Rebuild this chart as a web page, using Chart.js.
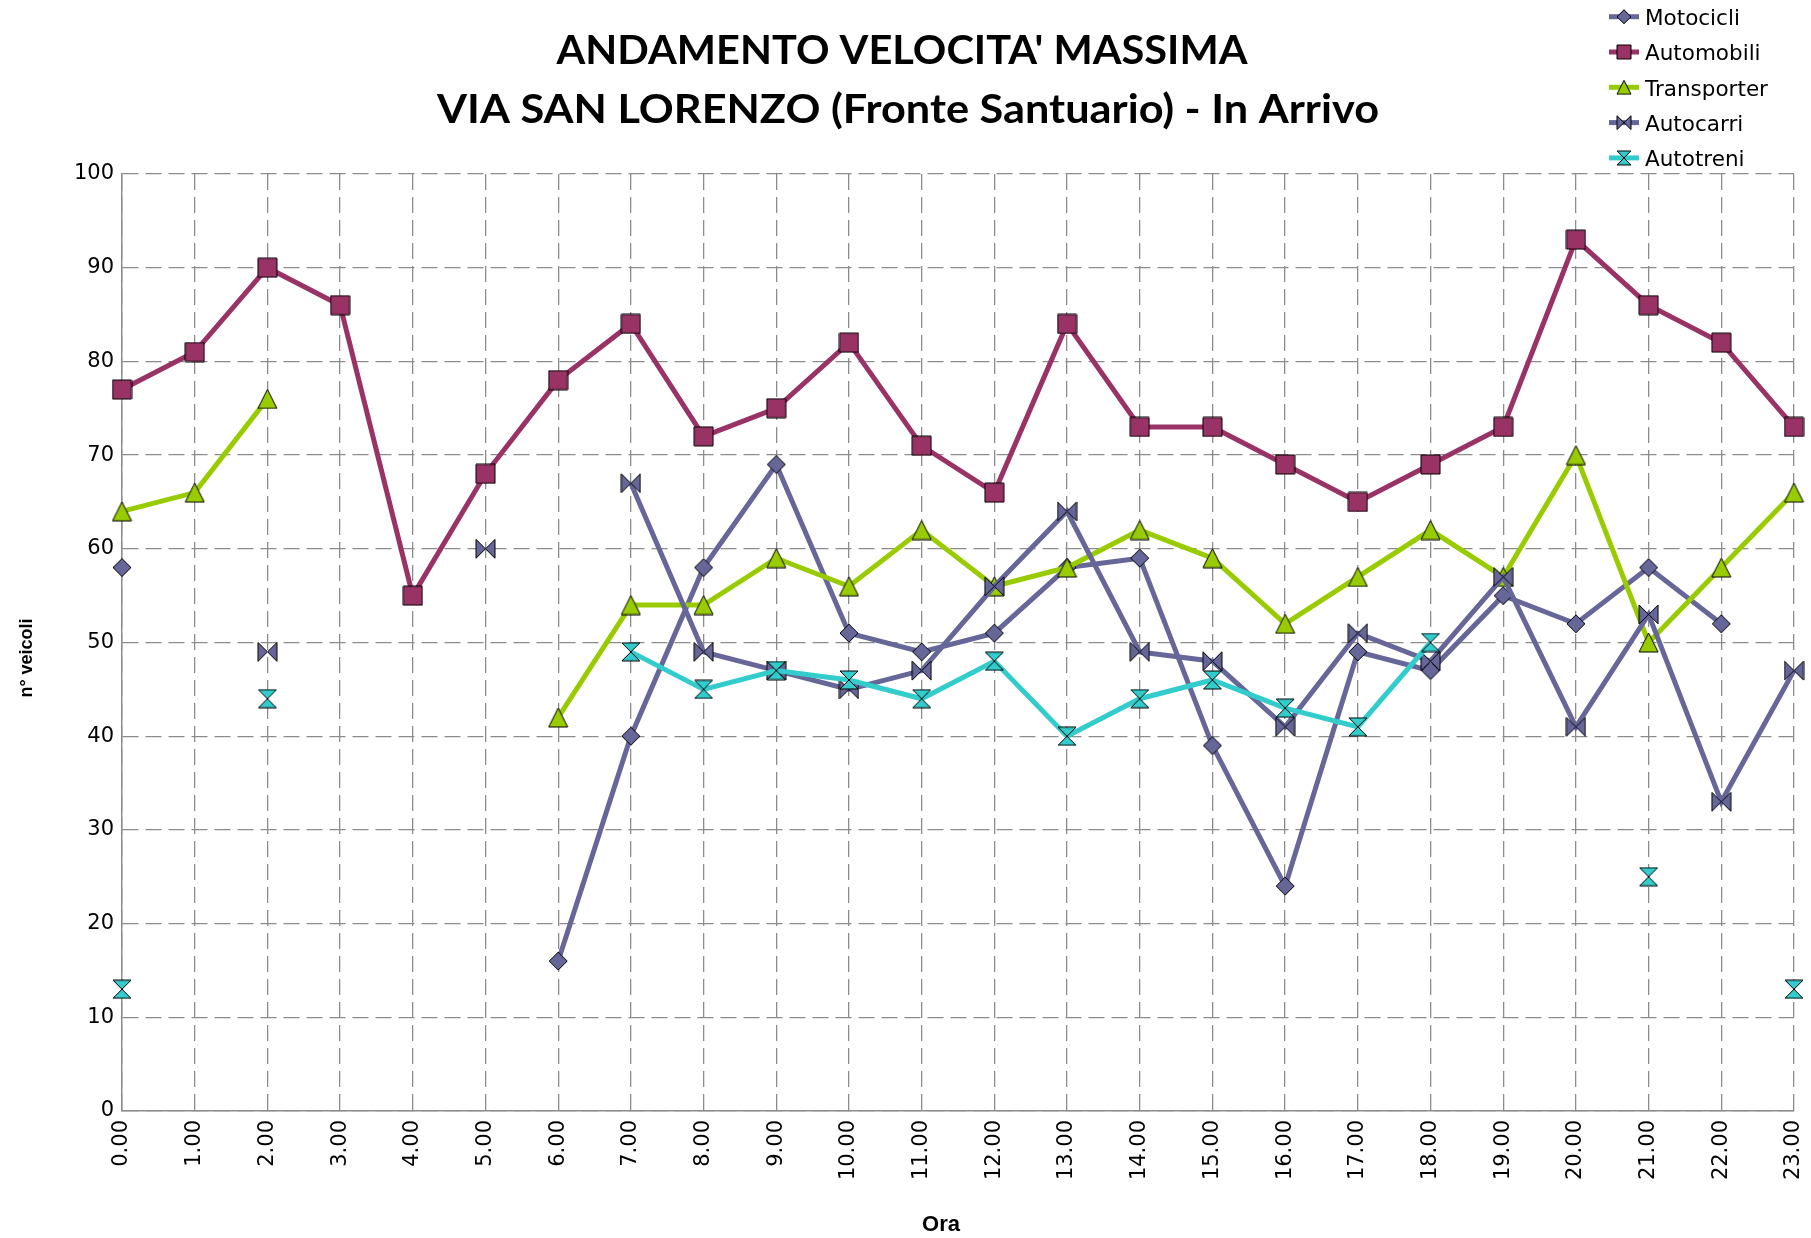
<!DOCTYPE html>
<html><head><meta charset="utf-8">
<script src="https://cdn.jsdelivr.net/npm/chart.js@4.4.0/dist/chart.umd.min.js"></script>
<style>html,body{margin:0;padding:0;background:#fff;} #wrap{width:1811px;height:1238px;position:relative;}</style>
</head><body><div id="wrap"><canvas id="c" width="1811" height="1238"></canvas></div>
<script>
// ---- data ----
const hours = ['0.00','1.00','2.00','3.00','4.00','5.00','6.00','7.00','8.00','9.00','10.00','11.00','12.00','13.00','14.00','15.00','16.00','17.00','18.00','19.00','20.00','21.00','22.00','23.00'];
const motocicli   = [58,null,null,null,null,null,16,40,58,69,51,49,51,58,59,39,24,49,47,55,52,58,52,null];
const automobili  = [77,81,90,86,55,68,78,84,72,75,82,71,66,84,73,73,69,65,69,73,93,86,82,73];
const transporter = [64,66,76,null,null,null,42,54,54,59,56,62,56,58,62,59,52,57,62,57,70,50,58,66];
const autocarri   = [null,null,49,null,null,60,null,67,49,47,45,47,56,64,49,48,41,51,48,57,41,53,33,47];
const autotreni   = [13,null,44,null,null,null,null,49,45,47,46,44,48,40,44,46,43,41,50,null,null,25,null,13];
const seriesNames = ['Motocicli','Automobili','Transporter','Autocarri','Autotreni'];
const titleLines  = ["ANDAMENTO VELOCITA' MASSIMA", "VIA SAN LORENZO (Fronte Santuario) - In Arrivo"];
const yTitle = 'n° veicoli';
const xTitle = 'Ora';
const yMin = 0, yMax = 100, yStep = 10;

// ---- styles ----
const colors = ['#666699','#993366','#99CC00','#666699','#33CCCC'];
const shapes = ['diamond','square','triangle','bowtie','hourglass'];

function marker(shape, size, fill) {
  const s = size + 2;
  const c = document.createElement('canvas');
  c.width = s; c.height = s;
  const g = c.getContext('2d');
  const o = 1, e = size + 1, m = s / 2;
  g.beginPath();
  if (shape === 'diamond') { g.moveTo(m,o); g.lineTo(e,m); g.lineTo(m,e); g.lineTo(o,m); g.closePath(); }
  else if (shape === 'square') { g.rect(o,o,size,size); }
  else if (shape === 'triangle') { g.moveTo(m,o); g.lineTo(e,e); g.lineTo(o,e); g.closePath(); }
  else if (shape === 'bowtie') { g.moveTo(o,o); g.lineTo(m,m); g.lineTo(o,e); g.closePath(); g.moveTo(e,o); g.lineTo(m,m); g.lineTo(e,e); g.closePath(); }
  else if (shape === 'hourglass') { g.moveTo(o,o); g.lineTo(e,o); g.lineTo(m,m); g.closePath(); g.moveTo(o,e); g.lineTo(e,e); g.lineTo(m,m); g.closePath(); }
  g.fillStyle = fill; g.fill();
  g.lineWidth = 1; g.strokeStyle = '#000'; g.stroke();
  return c;
}
const plotSizes = [18, 19, 19, 19, 18];
const plotMarkers = shapes.map((sh,i) => marker(sh, plotSizes[i], colors[i]));
const legendMarkers = shapes.map((sh,i) => marker(sh, 14, colors[i]));

const allData = [motocicli, automobili, transporter, autocarri, autotreni];
const datasets = allData.map((d,i) => ({
  label: seriesNames[i],
  data: d,
  borderColor: colors[i],
  backgroundColor: colors[i],
  borderWidth: 5,
  pointStyle: plotMarkers[i],
  pointRadius: 10,
  pointHoverRadius: 10,
  spanGaps: false,
  tension: 0,
  order: 5 - i
}));

const decor = {
  id: 'decor',
  afterDraw(chart) {
    const ctx = chart.ctx;
    ctx.save();
    ctx.fillStyle = '#000';
    // title
    const tSpecs = [{size:41, base:64.3, width:691, cx:902}, {size:40, base:123.3, width:942, cx:908}];
    titleLines.forEach((t, i) => {
      const sp = tSpecs[i];
      ctx.font = 'bold ' + sp.size + 'px Lato';
      const w = ctx.measureText(t).width;
      const sx = sp.width / w;
      ctx.save();
      ctx.translate(sp.cx, sp.base);
      ctx.scale(sx, 1);
      ctx.textAlign = 'center';
      ctx.textBaseline = 'alphabetic';
      ctx.fillText(t, 0, 0);
      ctx.restore();
    });
    // axis titles
    ctx.font = 'bold 22px "Liberation Sans"';
    ctx.textAlign = 'center';
    ctx.textBaseline = 'alphabetic';
    ctx.fillText(xTitle, 941, 1230.7);
    ctx.save();
    ctx.translate(32, 658);
    ctx.rotate(-Math.PI / 2);
    ctx.font = 'bold 18px "Liberation Sans"';
    ctx.fillText(yTitle, 0, 0);
    ctx.restore();
    // legend
    chart.data.datasets.forEach((ds, i) => {
      const cy = 16.7 + i * 35.3;
      ctx.save();
      ctx.strokeStyle = ds.borderColor;
      ctx.lineWidth = 5;
      ctx.beginPath();
      ctx.moveTo(1609, cy);
      ctx.lineTo(1639, cy);
      ctx.stroke();
      const mk = legendMarkers[i];
      ctx.drawImage(mk, 1624 - mk.width / 2, cy - mk.height / 2);
      ctx.fillStyle = '#000';
      ctx.font = '21.5px "DejaVu Sans"';
      ctx.textAlign = 'left';
      ctx.textBaseline = 'alphabetic';
      ctx.fillText(ds.label, 1645, cy + 8.2);
      ctx.restore();
    });
    ctx.restore();
  }
};

const gridColor = '#8c8c8c';
new Chart(document.getElementById('c'), {
  type: 'line',
  data: { labels: hours, datasets },
  options: {
    responsive: false,
    animation: false,
    events: [],
    layout: { padding: { top: 174, right: 17, bottom: 0, left: 0 } },
    plugins: { legend: { display: false }, title: { display: false }, tooltip: { enabled: false } },
    scales: {
      x: {
        type: 'category',
        offset: false,
        grid: { color: gridColor, lineWidth: 1.3, drawTicks: false },
        border: { display: true, color: '#8c8c8c', width: 1.5, dash: [16, 7] },
        ticks: { color: '#000', font: { family: 'DejaVu Sans', size: 21 }, maxRotation: 90, minRotation: 90, padding: 9, autoSkip: false },
        afterFit(scale) { scale.height = 127; scale.paddingRight = 0; scale.paddingLeft = 0; }
      },
      y: {
        min: yMin, max: yMax,
        grid: { color: gridColor, lineWidth: 1.3, drawTicks: false },
        border: { display: true, color: '#8c8c8c', width: 1.5, dash: [16, 7] },
        ticks: { stepSize: yStep, color: '#000', font: { family: 'DejaVu Sans', size: 21 }, padding: 8 },
        afterFit(scale) { scale.width = 122; scale.paddingTop = 0; scale.paddingBottom = 0; }
      }
    }
  },
  plugins: [decor]
});
</script>
</body></html>
